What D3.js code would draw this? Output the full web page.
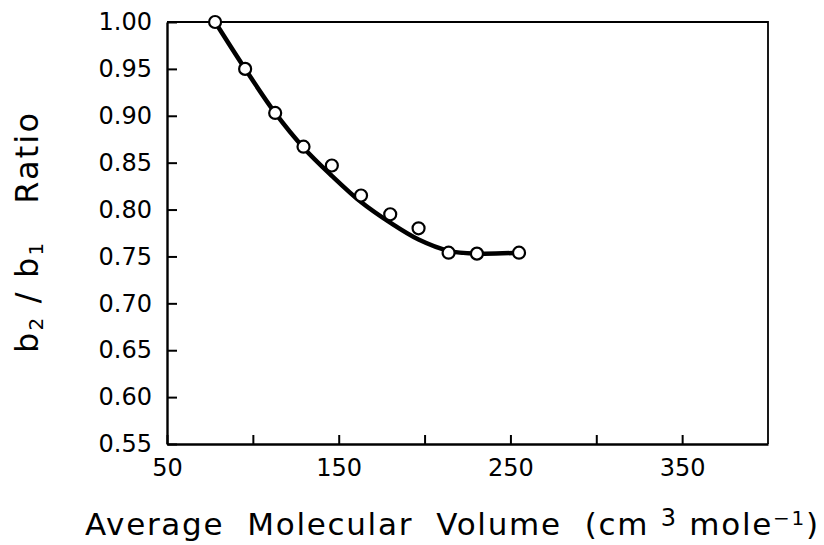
<!DOCTYPE html>
<html>
<head>
<meta charset="utf-8">
<script src="https://cdn.jsdelivr.net/npm/d3@7"></script>
<style>
  body { margin: 0; background: #fff; }
  svg { display: block; }
</style>
</head>
<body>
<div id="chart"></div>
<script>
// measured points (open circles)
const volume = [78, 95.5, 113, 129.5, 146, 163, 180, 196.5, 214, 230.5, 255];
const ratio = [1.00, 0.950, 0.903, 0.867, 0.847, 0.815, 0.795, 0.780, 0.754, 0.753, 0.754];

// smooth fitted curve
const curveX = [78, 95.5, 113, 129.5, 146, 163, 180, 196.5, 214, 230.5, 255];
const curveY = [1.00, 0.950, 0.903, 0.866, 0.836, 0.808, 0.786, 0.768, 0.756, 0.753, 0.754];

const xTicks = [50, 100, 150, 200, 250, 300, 350];
const xLabels = [50, 150, 250, 350];
const yTicks = [0.55, 0.60, 0.65, 0.70, 0.75, 0.80, 0.85, 0.90, 0.95, 1.00];

const width = 824, height = 545;
const margin = { top: 22, right: 56, bottom: 101, left: 167 };
const font = "'DejaVu Sans', Verdana, sans-serif";

const svg = d3.select("#chart").append("svg")
    .attr("width", width)
    .attr("height", height);

const x = d3.scaleLinear().domain([50, 400]).range([margin.left, width - margin.right]);
const y = d3.scaleLinear().domain([0.55, 1.00]).range([height - margin.bottom, margin.top]);

// frame (top and right)
svg.append("path")
    .attr("d", `M${x(50)},${y(1)}H${x(400)}V${y(0.55)}`)
    .attr("fill", "none")
    .attr("stroke", "#000")
    .attr("stroke-width", 1.8);

// x axis
const gx = svg.append("g")
    .attr("transform", `translate(0,${y(0.55)})`)
    .call(d3.axisBottom(x)
        .tickValues(xTicks)
        .tickSizeInner(-9)
        .tickSizeOuter(0)
        .tickPadding(15)
        .tickFormat(d => xLabels.includes(d) ? d : ""));
gx.select(".domain").attr("stroke-width", 2.4);
gx.selectAll(".tick line").attr("stroke-width", 2);
gx.selectAll("text")
    .attr("font-family", font)
    .attr("font-size", "24px")
    .attr("fill", "#000");

// y axis
const gy = svg.append("g")
    .attr("transform", `translate(${x(50)},0)`)
    .call(d3.axisLeft(y)
        .tickValues(yTicks)
        .tickSizeInner(-10)
        .tickSizeOuter(0)
        .tickPadding(15)
        .tickFormat(d3.format(".2f")));
gy.select(".domain").attr("stroke-width", 2.4);
gy.selectAll(".tick line").attr("stroke-width", 2);
gy.selectAll("text")
    .attr("font-family", font)
    .attr("font-size", "24px")
    .attr("fill", "#000");

// fitted curve
const line = d3.line()
    .x((d, i) => x(curveX[i]))
    .y(d => y(d))
    .curve(d3.curveCatmullRom.alpha(0.5));

svg.append("path")
    .attr("d", line(curveY))
    .attr("fill", "none")
    .attr("stroke", "#000")
    .attr("stroke-width", 4.5);

// data circles
svg.selectAll("circle.pt")
    .data(ratio)
    .join("circle")
    .attr("class", "pt")
    .attr("cx", (d, i) => x(volume[i]))
    .attr("cy", d => y(d))
    .attr("r", 6)
    .attr("fill", "#fff")
    .attr("stroke", "#000")
    .attr("stroke-width", 2.2);

// x axis title
const xt = svg.append("text")
    .attr("x", 85)
    .attr("y", 535)
    .attr("font-family", font)
    .attr("font-size", "31px")
    .attr("fill", "#000")
    .attr("textLength", 733)
    .attr("lengthAdjust", "spacing")
    .attr("xml:space", "preserve");
xt.append("tspan").text("Average  Molecular  Volume  (cm ");
xt.append("tspan").attr("font-size", "24px").attr("dy", -9).text("3");
xt.append("tspan").attr("dy", 9).text(" mole");
xt.append("tspan").attr("font-size", "20px").attr("dy", -10).text("−1");
xt.append("tspan").attr("dy", 10).text(")");

// y axis title
const yt = svg.append("text")
    .attr("transform", "translate(38,233) rotate(-90)")
    .attr("text-anchor", "middle")
    .attr("font-family", font)
    .attr("font-size", "32px")
    .attr("fill", "#000")
    .attr("textLength", 240)
    .attr("lengthAdjust", "spacing")
    .attr("xml:space", "preserve");
yt.append("tspan").text("b");
yt.append("tspan").attr("font-size", "20px").attr("dy", 5).text("2");
yt.append("tspan").attr("dy", -5).text(" / b");
yt.append("tspan").attr("font-size", "20px").attr("dy", 5).text("1");
yt.append("tspan").attr("dy", -5).text("   Ratio");
</script>
</body>
</html>
